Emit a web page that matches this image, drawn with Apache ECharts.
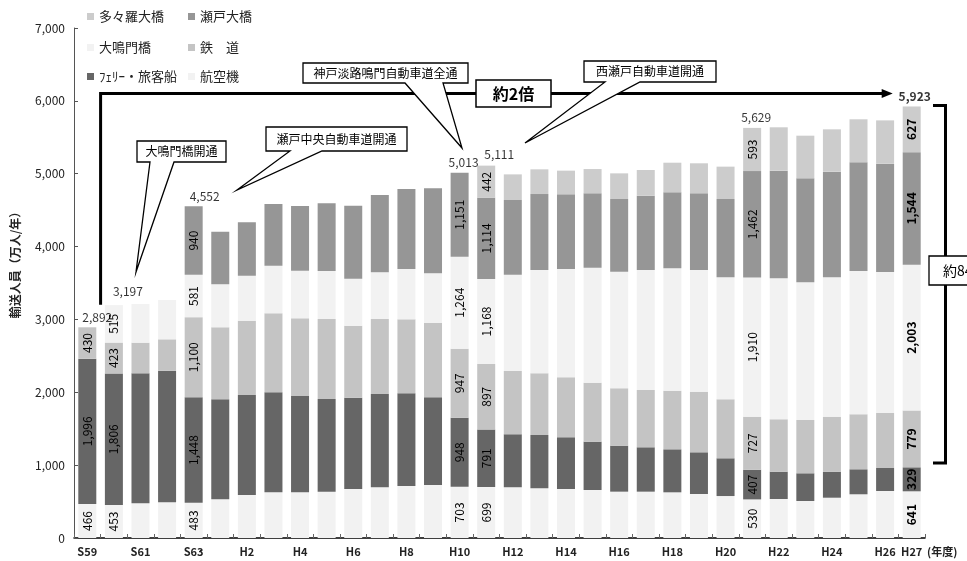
<!DOCTYPE html>
<html><head><meta charset="utf-8">
<script src="https://cdn.jsdelivr.net/npm/echarts@6/dist/echarts.min.js"></script>
<style>html,body{margin:0;padding:0;background:#fff}#c{width:967px;height:561px}</style>
</head><body><div id="c"></div>
<script>
const categories = ['S59','S60','S61','S62','S63','H1','H2','H3','H4','H5','H6','H7','H8','H9','H10','H11','H12','H13','H14','H15','H16','H17','H18','H19','H20','H21','H22','H23','H24','H25','H26','H27'];
const yTicks = [0,1000,2000,3000,4000,5000,6000,7000];
// 航空機
const air = [466,453,476,490,483,531,590,627,627,636,672,695,714,727,703,699,695,682,672,659,636,636,627,604,576,530,535,508,553,600,645,641];
// ﾌｪﾘｰ・旅客船
const ferry = [1996,1806,1784,1806,1448,1373,1373,1373,1322,1272,1254,1281,1272,1204,948,791,728,732,710,663,631,609,590,572,518,407,375,380,357,343,316,329];
// 鉄道
const rail = [430,423,421,431,1100,988,1019,1084,1066,1098,988,1030,1015,1024,947,897,869,846,823,810,788,786,805,832,810,727,719,732,755,755,755,779];
// 大鳴門橋
const onaruto = [null,515,531,539,581,590,618,654,654,659,646,640,691,678,1264,1168,1322,1418,1487,1578,1600,1647,1679,1670,1674,1910,1935,1889,1913,1967,1935,2003];
// 瀬戸大橋
const seto = [null,null,null,null,940,722,733,846,888,928,1001,1062,1098,1167,1151,1114,1025,1043,1025,1021,998,1020,1044,1053,1075,1462,1478,1428,1450,1492,1487,1544];
// 多々羅大橋
const tatara = [null,null,null,null,null,null,null,null,null,null,null,null,null,null,null,442,352,339,325,333,352,353,406,412,444,593,595,585,581,590,594,627];
// bars whose values are printed
const labeledIdx = [0,1,4,14,15,25,31];

const F = "'Noto Sans CJK JP','Noto Sans',sans-serif";
const fmt = v => Number(v).toLocaleString('en-US');
const totalOffset = {0:[10,0],1:[14,-4],4:[11,0],14:[4,0],15:[13,-1],25:[4,0],31:[3,0]};

const chart = echarts.init(document.getElementById('c'), null, {renderer:'canvas'});

function mk(name, vals, color){
  return {
    name, type:'bar', stack:'t', barWidth:18,
    itemStyle:{color},
    label:{show:false, position:'inside', rotate:90, fontSize:12, color:'#000', fontFamily:F,
      formatter:p=>fmt(p.value)},
    data: vals.map((v,i)=>({value:v, label:{show: labeledIdx.includes(i) && v!=null, fontWeight: i===31?'bold':'normal'}}))
  };
}
const seriesDefs = [
  ['航空機', air, '#f2f2f2'],
  ['ﾌｪﾘｰ・旅客船', ferry, '#666666'],
  ['鉄　道', rail, '#c4c4c4'],
  ['大鳴門橋', onaruto, '#f2f2f2'],
  ['瀬戸大橋', seto, '#969696'],
  ['多々羅大橋', tatara, '#cccccc']
];
const series = seriesDefs.map(d=>mk(d[0],d[1],d[2]));
const totals = labeledIdx.map(i=>[air,ferry,rail,onaruto,seto,tatara].reduce((s,a)=>s+(a[i]||0),0));
series.push({
  type:'scatter', symbolSize:0, silent:true, z:10,
  label:{show:true, position:'top', distance:4, fontSize:12, color:'#000', fontFamily:F,
    formatter:p=>fmt(p.value[1])},
  data: labeledIdx.map((i,k)=>({value:[i, totals[k]], label:{offset: totalOffset[i], fontWeight: i===31?'bold':'normal'}}))
});

const legendOrder = ['多々羅大橋','瀬戸大橋','大鳴門橋','鉄　道','ﾌｪﾘｰ・旅客船','航空機'];
const legendPos = [[87,10],[188,10],[87,41],[188,41],[87,70],[188,70]];

chart.setOption({
  animation:false,
  backgroundColor:'#fff',
  textStyle:{fontFamily:F},
  grid:{left:74, right:42, top:28, bottom:23, containLabel:false},
  legend: legendOrder.map((n,k)=>({data:[n], left:legendPos[k][0], top:legendPos[k][1], icon:'rect',
    itemWidth:7, itemHeight:7, itemGap:0, selectedMode:false, padding:0,
    textStyle:{fontSize:13, color:'#222', fontFamily:F}})),
  xAxis:{type:'category', data:categories,
    axisLine:{lineStyle:{color:'#000', width:1.5}},
    axisTick:{show:true, inside:true, interval:0, length:4, lineStyle:{color:'#666'}},
    axisLabel:{interval:0, formatter:(v,i)=>(i%2===0||i===31)?v:'', fontSize:11, fontWeight:'bold', color:'#222', margin:8, fontFamily:F}},
  yAxis:{type:'value', min:yTicks[0], max:yTicks[yTicks.length-1], interval:1000,
    axisLine:{show:true, lineStyle:{color:'#555', width:1}},
    axisTick:{show:true, inside:true, length:4, lineStyle:{color:'#555'}},
    splitLine:{show:false},
    axisLabel:{fontSize:12, color:'#222', margin:9, formatter:v=>fmt(v), fontFamily:F}},
  series
});

function callout(x0,y0,x1,y1,b1,b2,tip,text,id){
  return [{type:'polygon', z:100, shape:{points:[[x0,y0],[x1,y0],[x1,y1],[b2,y1],tip,[b1,y1],[x0,y1]]},
      style:{fill:'#fff', stroke:'#000', lineWidth:1.3}},
    {type:'text', z:101, style:{x:(x0+x1)/2, y:(y0+y1)/2, text, fill:'#000', font:'12px '+F, textAlign:'center', textVerticalAlign:'middle'}}];
}
const xBetween = (chart.convertToPixel({xAxisIndex:0}, 'S59') + chart.convertToPixel({xAxisIndex:0}, 'S60'))/2;
const xEnd = chart.convertToPixel({xAxisIndex:0}, 'H27');
const yBase = chart.convertToPixel({yAxisIndex:0}, 3200);
const yLine = 93.5;
const g = [];
// 約2倍 line with arrow
g.push({type:'polyline', z:90, shape:{points:[[xBetween,yBase],[xBetween,yLine],[xEnd-28,yLine]]}, style:{stroke:'#000', lineWidth:3, fill:null}});
g.push({type:'polygon', z:90, shape:{points:[[xEnd-30,yLine-4.5],[xEnd-19,yLine],[xEnd-30,yLine+4.5]]}, style:{fill:'#000'}});
g.push({type:'rect', z:100, shape:{x:476,y:80,width:75,height:27}, style:{fill:'#fff', stroke:'#000', lineWidth:1.5}});
g.push({type:'text', z:101, style:{x:513.5,y:93.5,text:'約2倍', fill:'#000', font:'bold 16px '+F, textAlign:'center', textVerticalAlign:'middle'}});
// right bracket
const yTop = chart.convertToPixel({yAxisIndex:0}, 5923)-1;
const yBot = chart.convertToPixel({yAxisIndex:0}, 1030);
g.push({type:'polyline', z:90, shape:{points:[[933,yTop],[945.5,yTop],[945.5,yBot],[933,yBot]]}, style:{stroke:'#000', lineWidth:3, fill:null}});
g.push({type:'rect', z:100, shape:{x:929,y:256,width:80,height:29}, style:{fill:'#fff', stroke:'#000', lineWidth:1.3}});
g.push({type:'text', z:101, style:{x:943,y:270.5,text:'約84%', fill:'#000', font:'14px '+F, textAlign:'left', textVerticalAlign:'middle'}});
// callouts
g.push(...callout(137,141,226,162,150,174,[136,272],'大鳴門橋開通'));
g.push(...callout(266,127,407,151,290,322,[237,190],'瀬戸中央自動車道開通'));
g.push(...callout(303,63,468,83,405,443,[462,148],'神戸淡路鳴門自動車道全通'));
g.push(...callout(584,61,716,82,605,640,[525,143],'西瀬戸自動車道開通'));
// y axis name
g.push({type:'text', z:101, x:15, y:262, rotation:Math.PI/2, style:{x:0,y:0,text:'輸送人員（万人/年）', fill:'#222', font:'bold 12px '+F, textAlign:'center', textVerticalAlign:'middle'}});
// x axis unit
g.push({type:'text', z:101, style:{x:927,y:552,text:'(年度)', fill:'#222', font:'bold 11px '+F, textAlign:'left', textVerticalAlign:'middle'}});
chart.setOption({graphic:{elements:g}});
</script></body></html>
